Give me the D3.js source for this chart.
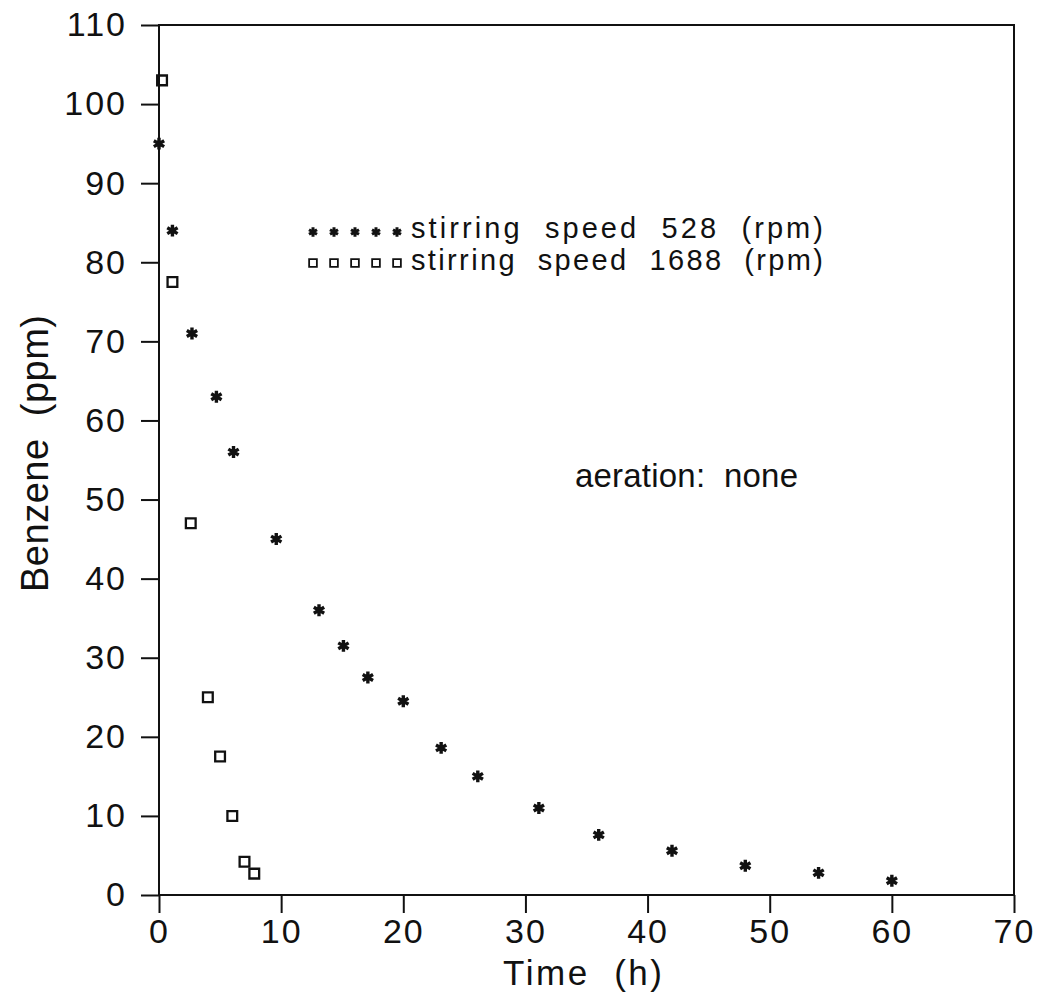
<!DOCTYPE html>
<html>
<head>
<meta charset="utf-8">
<script src="https://cdn.jsdelivr.net/npm/d3@7"></script>
<style>
  body { margin: 0; background: #fff; }
  text { font-family: "Liberation Sans", Arial, sans-serif; fill: #111; }
</style>
</head>
<body>
<svg id="chart"></svg>
<script>
// stirring speed 528 rpm (stars)
const slowTime = [0, 1.1, 2.7, 4.7, 6.1, 9.6, 13.1, 15.1, 17.1, 20.0, 23.1, 26.1, 31.1, 36.0, 42.0, 48.0, 54.0, 60.0]
const slowBenzene = [95, 84, 71, 63, 56, 45, 36, 31.5, 27.5, 24.5, 18.6, 15, 11, 7.6, 5.6, 3.7, 2.8, 1.8]
// stirring speed 1688 rpm (squares)
const fastTime = [0.25, 1.1, 2.6, 4.0, 5.0, 6.0, 7.0, 7.8]
const fastBenzene = [103, 77.5, 47, 25, 17.5, 10, 4.2, 2.7]

const xTicks = [0, 10, 20, 30, 40, 50, 60, 70]
const yTicks = [0, 10, 20, 30, 40, 50, 60, 70, 80, 90, 100, 110]
const legendLabels = ['stirring  speed  528  (rpm)', 'stirring  speed  1688  (rpm)']
const note = 'aeration:  none'

const width = 1040
const height = 1000
const margin = { top: 25, right: 26, bottom: 105, left: 159 }

const svg = d3.select('#chart')
  .attr('width', width)
  .attr('height', height)

const x = d3.scaleLinear().domain([0, 70]).range([margin.left, width - margin.right])
const y = d3.scaleLinear().domain([0, 110]).range([height - margin.bottom, margin.top])

const star = d3.symbol(d3.symbolAsterisk, 100)
const square = d3.symbol(d3.symbolSquare, 95)

// frame
svg.append('rect')
  .attr('x', x(0))
  .attr('y', y(110))
  .attr('width', x(70) - x(0))
  .attr('height', y(0) - y(110))
  .attr('fill', 'none')
  .attr('stroke', '#111')
  .attr('stroke-width', 2)

const xAxis = svg.append('g')
  .attr('transform', `translate(0,${y(0)})`)
  .call(d3.axisBottom(x).tickValues(xTicks).tickSize(18).tickPadding(6))
xAxis.select('.domain').remove()
xAxis.selectAll('line').attr('stroke', '#111').attr('stroke-width', 2)
xAxis.selectAll('text').attr('font-size', 34).attr('fill', '#111').attr('letter-spacing', 2)

const yAxis = svg.append('g')
  .attr('transform', `translate(${x(0)},0)`)
  .call(d3.axisLeft(y).tickValues(yTicks).tickSize(18).tickPadding(14))
yAxis.select('.domain').remove()
yAxis.selectAll('line').attr('stroke', '#111').attr('stroke-width', 2)
yAxis.selectAll('text').attr('font-size', 34).attr('fill', '#111').attr('letter-spacing', 2)

svg.append('text')
  .attr('x', 503)
  .attr('y', 985)
  .attr('font-size', 35)
  .attr('xml:space', 'preserve')
  .attr('textLength', 159)
  .attr('lengthAdjust', 'spacing')
  .text('Time  (h)')

svg.append('text')
  .attr('transform', `translate(48,592) rotate(-90)`)
  .attr('font-size', 38)
  .attr('xml:space', 'preserve')
  .attr('textLength', 277)
  .attr('lengthAdjust', 'spacing')
  .text('Benzene  (ppm)')

// points
svg.append('g')
  .selectAll('path')
  .data(slowTime.map((t, i) => [t, slowBenzene[i]]))
  .join('path')
  .attr('d', star)
  .attr('transform', d => `translate(${x(d[0])},${y(d[1])})`)
  .attr('fill', 'none')
  .attr('stroke', '#111')
  .attr('stroke-width', 3.4)

svg.append('g')
  .selectAll('path')
  .data(fastTime.map((t, i) => [t, fastBenzene[i]]))
  .join('path')
  .attr('d', square)
  .attr('transform', d => `translate(${x(d[0])},${y(d[1])})`)
  .attr('fill', 'none')
  .attr('stroke', '#111')
  .attr('stroke-width', 2.3)

// legend
const legend = svg.append('g')
const legendRows = [
  { sym: d3.symbol(d3.symbolAsterisk, 60), sw: 3, cy: 232, base: 238 },
  { sym: d3.symbol(d3.symbolSquare, 60), sw: 1.8, cy: 263, base: 270 }
]
legendRows.forEach((row, i) => {
  legend.selectAll(null)
    .data(d3.range(5))
    .join('path')
    .attr('d', row.sym)
    .attr('transform', k => `translate(${313 + k * 21},${row.cy})`)
    .attr('fill', 'none')
    .attr('stroke', '#111')
    .attr('stroke-width', row.sw)
  legend.append('text')
    .attr('x', 411)
    .attr('y', row.base)
    .attr('font-size', 29)
    .attr('xml:space', 'preserve')
    .attr('textLength', 412)
    .attr('lengthAdjust', 'spacing')
    .text(legendLabels[i])
})

svg.append('text')
  .attr('x', 575)
  .attr('y', 487)
  .attr('font-size', 33)
  .attr('xml:space', 'preserve')
  .attr('textLength', 223)
  .attr('lengthAdjust', 'spacing')
  .text(note)
</script>
</body>
</html>
